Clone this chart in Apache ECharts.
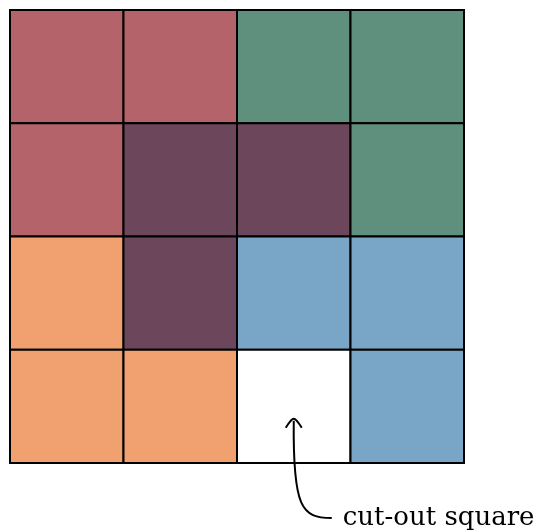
<!DOCTYPE html>
<html>
<head>
<meta charset="utf-8">
<script src="https://cdn.jsdelivr.net/npm/echarts@6/dist/echarts.min.js"></script>
<style>
  html, body { margin: 0; padding: 0; background: #fff; }
  #chart { width: 541px; height: 531px; }
</style>
</head>
<body>
<div id="chart"></div>
<script>
// 4x4 board, tiled by L-trominoes, one square cut out
var cols = ["0", "1", "2", "3"];
var rows = ["0", "1", "2", "3"];

// tile id per cell, row by row from the top
var board = [
  ["red", "red", "green", "green"],
  ["red", "purple", "purple", "green"],
  ["orange", "purple", "blue", "blue"],
  ["orange", "orange", "cut", "blue"]
];

var tileColors = {
  red: "#b5636b",
  green: "#5f907e",
  purple: "#6c475c",
  orange: "#f1a06f",
  blue: "#79a5c6",
  cut: "#ffffff"
};

var annotationText = "cut-out square";

var cells = [];
board.forEach(function (row, r) {
  row.forEach(function (tile, c) {
    cells.push([c, r, tile]);
  });
});

var el = document.getElementById("chart");
var chart = echarts.init(el);

chart.setOption({
  animation: false,
  grid: { left: 10, top: 10, width: 454, height: 453 },
  xAxis: {
    type: "category",
    data: cols,
    show: false
  },
  yAxis: {
    type: "category",
    data: rows,
    inverse: true,
    show: false
  },
  series: [{
    type: "custom",
    data: cells,
    renderItem: function (params, api) {
      var center = api.coord([api.value(0), api.value(1)]);
      var size = api.size([1, 1]);
      var tile = board[api.value(1)][api.value(0)];
      return {
        type: "rect",
        shape: {
          x: center[0] - size[0] / 2,
          y: center[1] - size[1] / 2,
          width: size[0],
          height: size[1]
        },
        style: {
          fill: tileColors[tile],
          stroke: "#000",
          lineWidth: 2
        }
      };
    }
  }]
});

// put the arrow + label under the cut-out cell
var cutCell = cells.filter(function (d) { return d[2] === "cut"; })[0];
var p = chart.convertToPixel({ gridIndex: 0 }, [cutCell[0], cutCell[1]]);
var cellH = chart.convertToPixel({ gridIndex: 0 }, [0, 1])[1] - chart.convertToPixel({ gridIndex: 0 }, [0, 0])[1];
var tipX = p[0];
var tipY = p[1] + cellH * 0.11;
var endX = tipX + 38;
var endY = p[1] + cellH / 2 + 55;

chart.setOption({
  graphic: [
    {
      type: "bezierCurve",
      z: 100,
      shape: {
        x1: tipX, y1: tipY + 2,
        cpx1: tipX - 1, cpy1: endY - 10,
        cpx2: tipX + 8, cpy2: endY,
        x2: endX, y2: endY
      },
      style: { stroke: "#000", lineWidth: 2, fill: null }
    },
    {
      type: "polyline",
      z: 100,
      shape: {
        points: [[tipX - 8, tipY + 9], [tipX, tipY], [tipX + 8, tipY + 9]],
        smooth: 0.3
      },
      style: { stroke: "#000", lineWidth: 2, fill: null }
    },
    {
      type: "text",
      z: 100,
      x: endX + 11,
      y: endY,
      style: {
        text: annotationText,
        fill: "#000",
        font: "26px 'DejaVu Serif'",
        verticalAlign: "middle",
        align: "left"
      }
    }
  ]
});

window.addEventListener("resize", function () {
  chart.resize();
});
</script>
</body>
</html>
